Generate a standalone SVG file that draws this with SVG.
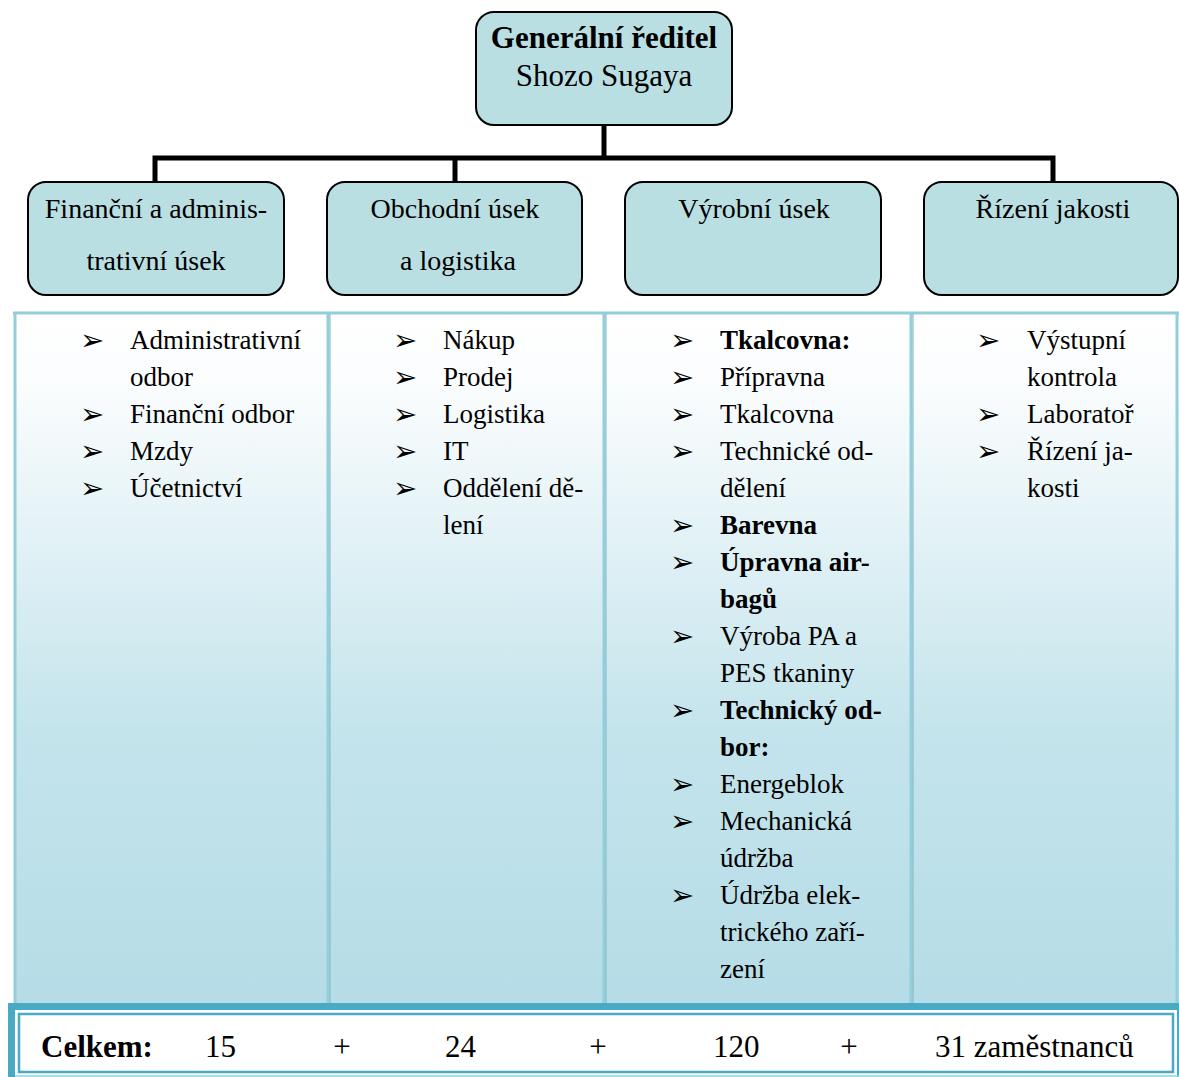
<svg xmlns="http://www.w3.org/2000/svg" width="1179" height="1077" viewBox="0 0 1179 1077" font-family="Liberation Serif, serif">
<defs>
<linearGradient id="colg" x1="0" y1="0" x2="0" y2="1">
<stop offset="0" stop-color="#ffffff"/>
<stop offset="0.1" stop-color="#fbfdfe"/>
<stop offset="0.6" stop-color="#c4e4ec"/>
<stop offset="1" stop-color="#b5dce7"/>
</linearGradient>
<style>
.box{fill:#badfe3;stroke:#000;stroke-width:2}
.top{font-size:31px}
.sub{font-size:28px;text-anchor:middle}
.li{font-size:27px}
.b{font-weight:bold}
.sep{stroke:#93cedb;stroke-width:3}
.sepd{stroke:#7fb6c4;stroke-width:1}
.con{stroke:#000;stroke-width:5;fill:none}
.tot{font-size:31px}
</style>
</defs>
<rect width="1179" height="1077" fill="#fff"/>

<g id="columns">
<rect x="14" y="312" width="1165" height="695" fill="url(#colg)"/>
<line x1="13" y1="313" x2="1179" y2="313" class="sep"/>
<line x1="15" y1="312" x2="15" y2="1005" class="sep"/>
<line x1="328" y1="312" x2="328" y2="1005" class="sep"/>
<line x1="330" y1="314" x2="330" y2="1005" class="sepd"/>
<line x1="604" y1="312" x2="604" y2="1005" class="sep"/>
<line x1="606" y1="314" x2="606" y2="1005" class="sepd"/>
<line x1="911" y1="312" x2="911" y2="1005" class="sep"/>
<line x1="913" y1="314" x2="913" y2="1005" class="sepd"/>
<line x1="1177" y1="312" x2="1177" y2="1005" class="sep"/>
</g>

<g id="connectors">
<path class="con" d="M604 125 V158 M155 182 V158 H1053 V182 M455 158 V182"/>
</g>

<g id="ceo">
<rect class="box" x="476" y="12" width="256" height="113" rx="18"/>
<text class="top b" x="604" y="48" text-anchor="middle">Generální ředitel</text>
<text class="top" x="604" y="86" text-anchor="middle">Shozo Sugaya</text>
</g>

<g id="fin">
<rect class="box" x="28" y="182" width="256" height="113" rx="18"/>
<text class="sub" x="156" y="218">Finanční a adminis-</text>
<text class="sub" x="156" y="270">trativní úsek</text>
</g>
<g id="obch">
<rect class="box" x="327" y="182" width="255" height="113" rx="18"/>
<text class="sub" x="455" y="218">Obchodní úsek</text>
<text class="sub" x="458" y="270">a logistika</text>
</g>
<g id="vyr">
<rect class="box" x="625" y="182" width="256" height="113" rx="18"/>
<text class="sub" x="754" y="218">Výrobní úsek</text>
</g>
<g id="riz">
<rect class="box" x="924" y="182" width="254" height="113" rx="18"/>
<text class="sub" x="1053" y="218">Řízení jakosti</text>
</g>

<g id="bullets" font-family="DejaVu Sans, sans-serif" font-size="29">
<text x="80" y="350">➢</text>
<text x="80" y="424">➢</text>
<text x="80" y="461">➢</text>
<text x="80" y="498">➢</text>
<text x="393" y="350">➢</text>
<text x="393" y="387">➢</text>
<text x="393" y="424">➢</text>
<text x="393" y="461">➢</text>
<text x="393" y="498">➢</text>
<text x="670" y="350">➢</text>
<text x="670" y="387">➢</text>
<text x="670" y="424">➢</text>
<text x="670" y="461">➢</text>
<text x="670" y="535">➢</text>
<text x="670" y="572">➢</text>
<text x="670" y="646">➢</text>
<text x="670" y="720">➢</text>
<text x="670" y="794">➢</text>
<text x="670" y="831">➢</text>
<text x="670" y="905">➢</text>
<text x="976" y="350">➢</text>
<text x="976" y="424">➢</text>
<text x="976" y="461">➢</text>
</g>

<g id="list-fin">
<text class="li" x="130" y="349">Administrativní</text>
<text class="li" x="130" y="386">odbor</text>
<text class="li" x="130" y="423">Finanční odbor</text>
<text class="li" x="130" y="460">Mzdy</text>
<text class="li" x="130" y="497">Účetnictví</text>
</g>

<g id="list-obch">
<text class="li" x="443" y="349">Nákup</text>
<text class="li" x="443" y="386">Prodej</text>
<text class="li" x="443" y="423">Logistika</text>
<text class="li" x="443" y="460">IT</text>
<text class="li" x="443" y="497">Oddělení dě-</text>
<text class="li" x="443" y="534">lení</text>
</g>

<g id="list-vyr">
<text class="li b" x="720" y="349">Tkalcovna:</text>
<text class="li" x="720" y="386">Přípravna</text>
<text class="li" x="720" y="423">Tkalcovna</text>
<text class="li" x="720" y="460">Technické od-</text>
<text class="li" x="720" y="497">dělení</text>
<text class="li b" x="720" y="534">Barevna</text>
<text class="li b" x="720" y="571">Úpravna air-</text>
<text class="li b" x="720" y="608">bagů</text>
<text class="li" x="720" y="645">Výroba PA a</text>
<text class="li" x="720" y="682">PES tkaniny</text>
<text class="li b" x="720" y="719">Technický od-</text>
<text class="li b" x="720" y="756">bor:</text>
<text class="li" x="720" y="793">Energeblok</text>
<text class="li" x="720" y="830">Mechanická</text>
<text class="li" x="720" y="867">údržba</text>
<text class="li" x="720" y="904">Údržba elek-</text>
<text class="li" x="720" y="941">trického zaří-</text>
<text class="li" x="720" y="978">zení</text>
</g>

<g id="list-riz">
<text class="li" x="1027" y="349">Výstupní</text>
<text class="li" x="1027" y="386">kontrola</text>
<text class="li" x="1027" y="423">Laboratoř</text>
<text class="li" x="1027" y="460">Řízení ja-</text>
<text class="li" x="1027" y="497">kosti</text>
</g>

<g id="total">
<rect x="8" y="1003" width="1171" height="74" fill="#4aaac4"/>
<rect x="15" y="1010" width="1162" height="67" fill="#fff"/>
<rect x="19" y="1014" width="1154" height="58" fill="#fff" stroke="#4aaac4" stroke-width="2.5"/>
<line x1="15" y1="1076" x2="1179" y2="1076" stroke="#8fcfdc" stroke-width="1.5"/>
<text class="tot b" x="41" y="1057">Celkem:</text>
<text class="tot" x="205" y="1057">15</text>
<text class="tot" x="342" y="1057" text-anchor="middle">+</text>
<text class="tot" x="445" y="1057">24</text>
<text class="tot" x="598" y="1057" text-anchor="middle">+</text>
<text class="tot" x="713" y="1057">120</text>
<text class="tot" x="849" y="1057" text-anchor="middle">+</text>
<text class="tot" x="935" y="1057">31 zaměstnanců</text>
</g>
</svg>
